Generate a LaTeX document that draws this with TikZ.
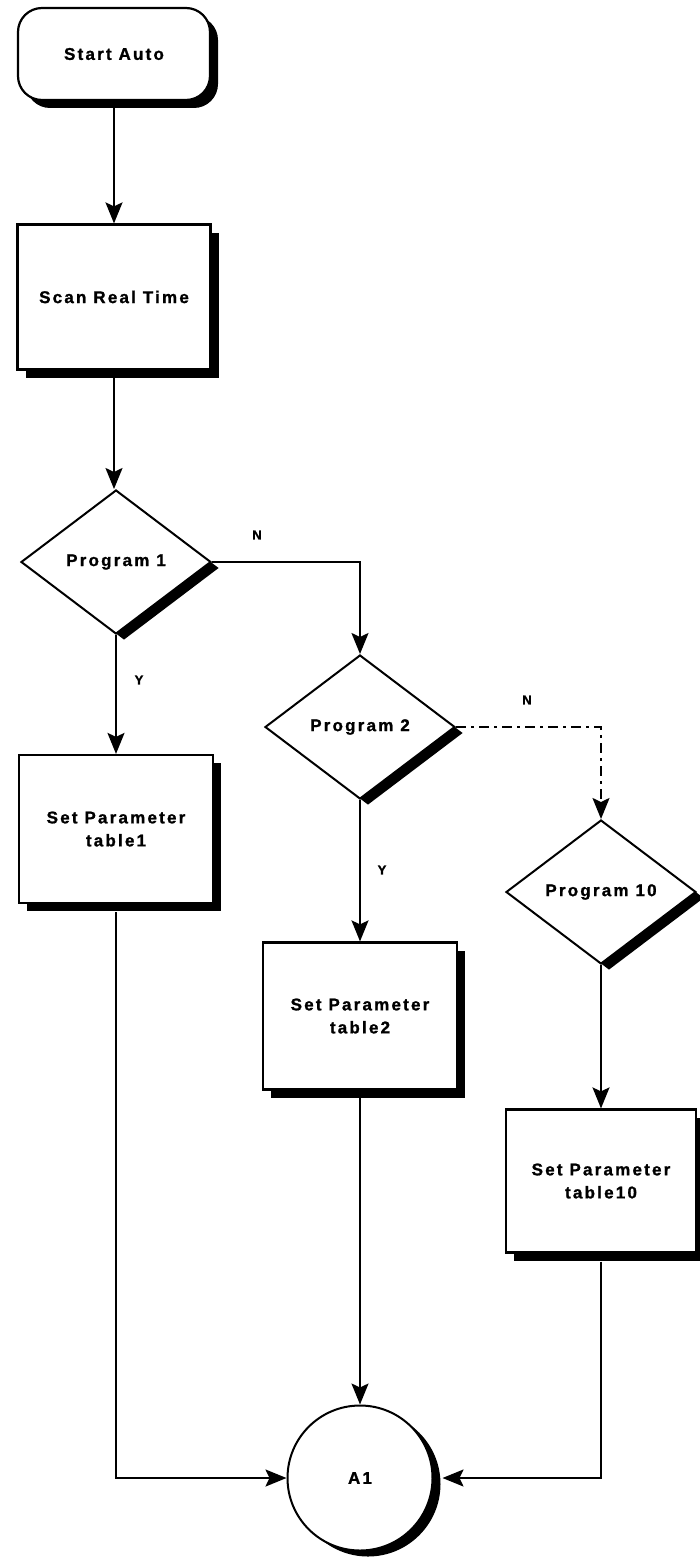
\documentclass[tikz,border=0pt]{standalone}
\usepackage{fontspec}
\newfontfamily\chartfont{Liberation Sans}[LetterSpace=13,BoldFeatures={FakeBold=1.2}]
\usetikzlibrary{shapes.geometric,shadows,arrows.meta}

\begin{document}
\begin{tikzpicture}[x=1pt,y=-1pt,
  every node/.style={font=\chartfont\bfseries\fontsize{17}{23}\selectfont},
  boxshadow/.style={drop shadow={shadow xshift=8pt,shadow yshift=-8pt,fill=black,opacity=1}},
  tipshadow/.style={drop shadow={shadow xshift=8pt,shadow yshift=-6pt,fill=black,opacity=1}},
  terminal/.style={draw,line width=2.2pt,fill=white,rounded corners=24pt,
    minimum width=192pt,minimum height=92pt,boxshadow},
  process/.style={draw,line width=2.2pt,fill=white,align=center,boxshadow},
  decision/.style={draw,line width=2pt,fill=white,diamond,inner sep=0pt,
    minimum width=190pt,minimum height=144pt,tipshadow},
  connector/.style={draw,line width=2pt,fill=white,circle,minimum size=145pt,
    drop shadow={shadow xshift=8pt,shadow yshift=-6pt,fill=black,opacity=1}},
  flow/.style={line width=2pt,-{Stealth[length=21pt,width=17pt,inset=4pt]}},
  altflow/.style={flow,dash pattern=on 10pt off 5pt on 3pt off 5pt},
  branch/.style={font=\chartfont\bfseries\fontsize{13}{15}\selectfont}
]
\useasboundingbox (0,0) rectangle (700,1557);
\fill[white] (0,0) rectangle (700,1557);

% main column
\node[terminal] (start) at (114,54) {Start Auto};
\node[process,minimum width=193pt,minimum height=145pt] (scan) at (114,297) {Scan Real Time};
\node[decision] (p1) at (116,562) {Program 1};
\node[process,minimum width=194pt,minimum height=148pt] (t1) at (116,829) {Set Parameter\\table1};

% second column
\node[decision] (p2) at (360,727) {Program 2};
\node[process,minimum width=194pt,minimum height=147pt] (t2) at (360,1016) {Set Parameter\\table2};

% last column
\node[decision] (p10) at (601,892) {Program 10};
\node[process,minimum width=190pt,minimum height=143pt] (t10) at (601,1181) {Set Parameter\\table10};

% off-page connector
\node[connector] (a1) at (360,1478) {A1};
\coordinate (a1e) at ([xshift=9pt]a1.east);

% connectors
\draw[flow] (start.south) -- (scan.north);
\draw[flow] (scan.south) -- (p1.north -| scan.south);
\draw[flow] (p1.east) -| (p2.north);
\draw[flow] (p1.south) -- (t1.north);
\draw[altflow] (p2.east) -| (p10.north);
\draw[flow] (p2.south) -- (t2.north);
\draw[flow] (p10.south) -- (t10.north);
\draw[flow] ([yshift=-8pt]t1.south) |- (a1.west);
\draw[flow] (t2.south) -- (a1.north);
\draw[flow] ([yshift=-8pt]t10.south) |- (a1e);

% branch labels
\node[branch] (n1) at (257,535) {N};
\node[branch] (y1) at (139,680) {Y};
\node[branch] (n2) at (527,700) {N};
\node[branch] (y2) at (382,870) {Y};
\end{tikzpicture}
\end{document}
